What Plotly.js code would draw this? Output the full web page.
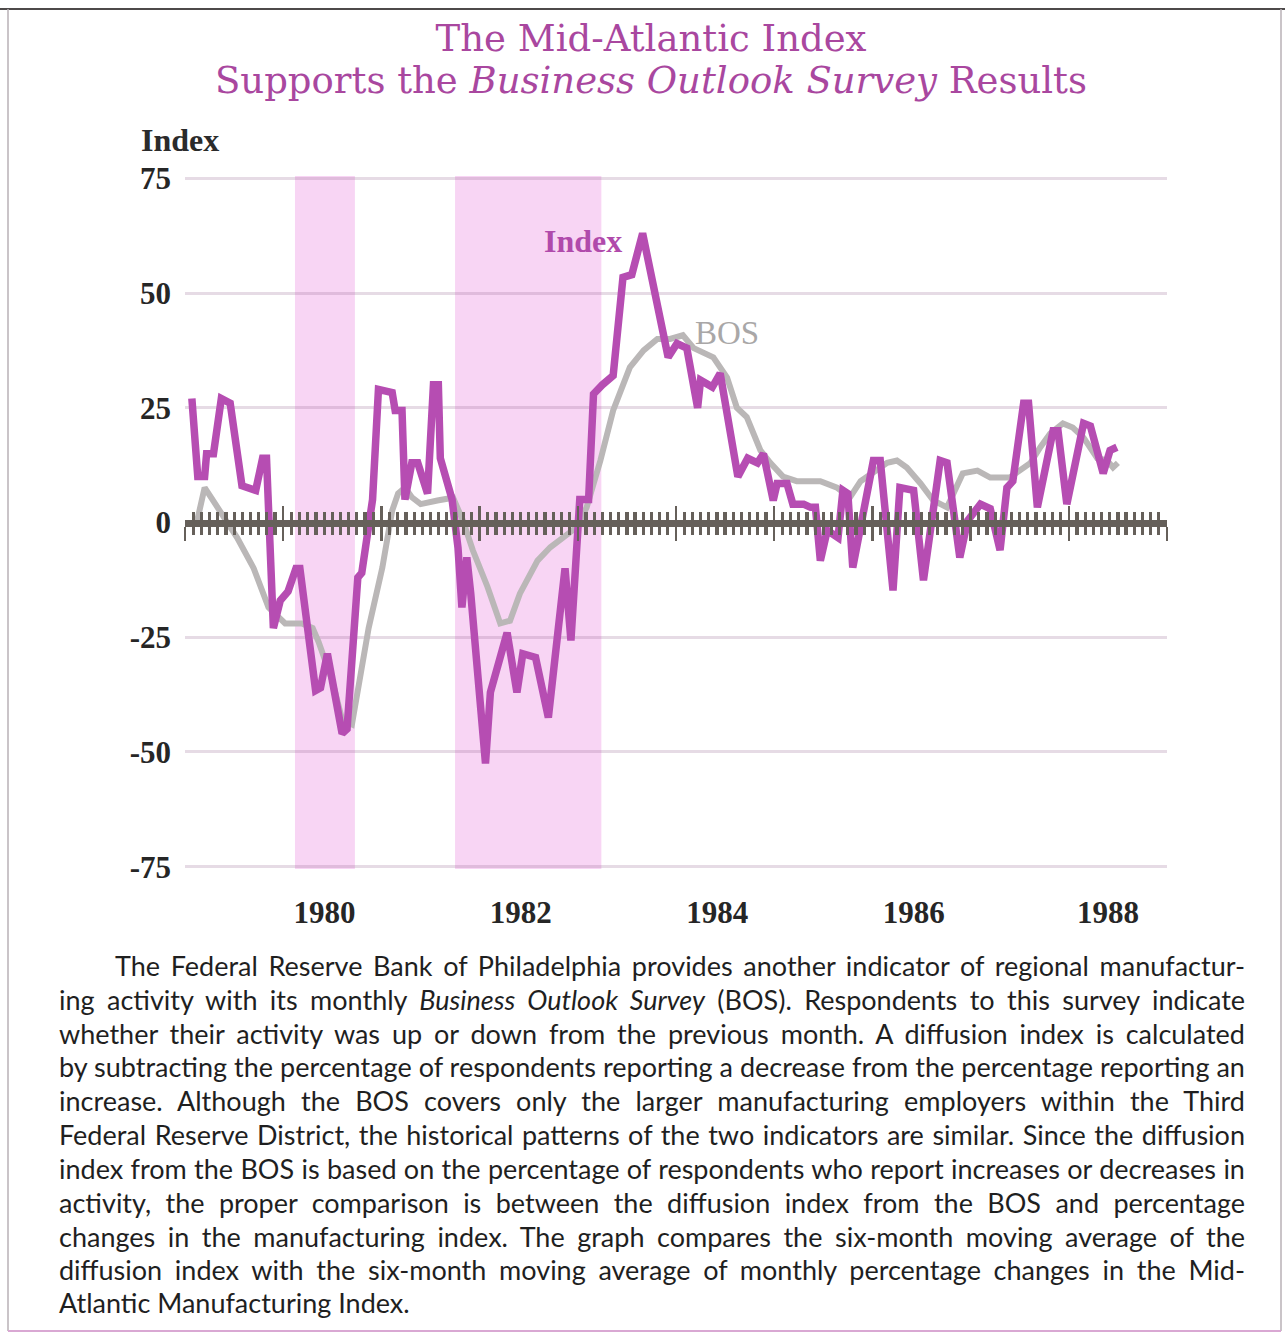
<!DOCTYPE html>
<html><head><meta charset="utf-8">
<script src="https://cdn.plot.ly/plotly-3.0.1.min.js"></script>
<style>html,body{margin:0;padding:0;background:#fff}</style>
</head><body><div id="chart" style="width:1285px;height:1335px"></div>
<script>
// ---- data (decimal years, index values) ----
const indexDates = [1979.07,1979.13,1979.20,1979.22,1979.29,1979.37,1979.46,1979.58,1979.72,1979.79,1979.83,1979.90,1979.97,1980.05,1980.13,1980.17,1980.33,1980.38,1980.45,1980.60,1980.65,1980.76,1980.80,1980.91,1980.97,1981.11,1981.14,1981.21,1981.24,1981.31,1981.37,1981.47,1981.53,1981.58,1981.60,1981.72,1981.78,1981.82,1981.87,1981.91,1982.06,1982.11,1982.28,1982.38,1982.44,1982.57,1982.70,1982.82,1982.87,1982.93,1982.97,1983.02,1983.11,1983.16,1983.25,1983.36,1983.46,1983.55,1983.66,1983.92,1984.01,1984.11,1984.22,1984.25,1984.37,1984.45,1984.63,1984.73,1984.83,1984.89,1984.99,1985.03,1985.13,1985.19,1985.30,1985.37,1985.42,1985.47,1985.54,1985.65,1985.70,1985.75,1985.80,1986.01,1986.08,1986.21,1986.28,1986.42,1986.52,1986.69,1986.76,1986.89,1986.97,1987.10,1987.20,1987.30,1987.37,1987.43,1987.54,1987.59,1987.68,1987.84,1987.89,1987.98,1988.15,1988.22,1988.35,1988.42,1988.49];
const indexValues = [27,10,10,15,15,27,26,8,7,14,14,-23,-17,-15,-10,-10,-36.6,-36,-28.6,-46,-45,-12,-11,5,29,28.3,24.4,24.4,5,13,13,6.3,30,30,14,5,-5.5,-18.5,-7.6,-15.5,-52.5,-37,-24,-37,-28.6,-29.4,-42.5,-20,-10,-25.7,-10,5,5,28,30,32,53.4,54,63,36,39,38,25,31,29.5,32.5,10,14,13,15,4.8,8.5,8.5,4,4,3.3,3.3,-8.3,-1.7,-3.3,7,6.3,-9.8,13.5,13.5,-14.8,7.6,7,-12.6,13.5,13,-7.6,0.4,4,3,-6,7.6,9,26,26,3.3,20,20,4,21.6,21,10.7,15.7,16.4];
const bosDates = [1979.12,1979.20,1979.31,1979.53,1979.70,1979.85,1980.02,1980.19,1980.30,1980.36,1980.50,1980.60,1980.70,1980.76,1980.87,1981.01,1981.11,1981.17,1981.24,1981.31,1981.40,1981.57,1981.67,1981.73,1981.83,1981.93,1982.08,1982.21,1982.31,1982.41,1982.59,1982.72,1982.85,1982.99,1983.09,1983.23,1983.36,1983.53,1983.67,1983.81,1983.94,1984.07,1984.18,1984.32,1984.38,1984.52,1984.62,1984.72,1984.86,1984.96,1985.09,1985.23,1985.34,1985.47,1985.64,1985.77,1985.88,1986.15,1986.25,1986.35,1986.49,1986.62,1986.76,1986.92,1987.07,1987.20,1987.40,1987.51,1987.61,1987.71,1987.81,1987.94,1988.04,1988.15,1988.29,1988.39,1988.45,1988.50];
const bosValues = [0,7.6,4,-3.3,-10,-18.5,-22,-22,-23,-26,-34.5,-43,-44,-37,-23,-9.8,2.6,6.3,7.6,5.5,4,4.8,5,5.4,0.4,-6,-14,-22,-21.4,-15.5,-8.3,-5.4,-3.3,-1,3.3,13.5,24.4,33.8,37.5,40,40,40.8,38,36.8,36,31.6,25,23,15.7,13,10,9,9,9,7.6,5.4,9,13,13.5,12,8.5,4.8,3.3,10.7,11.3,9.8,9.8,11.3,13,16.4,19.4,21.6,20.7,18.5,14,13.5,12,13];
const shadeStart = [1980.12, 1981.75];
const shadeEnd = [1980.73, 1983.24];
const yearTickVals = [1980.42, 1982.42, 1984.42, 1986.42, 1988.40];
const yearTickText = ['1980','1982','1984','1986','1988'];
const yTickVals = [-75,-50,-25,0,25,50,75];
const yTickText = ['-75','-50','-25','0','25','50','75'];
const axisStart = 1979, axisEnd = 1989;
const seriesNames = ['Index','BOS'];

const titleLine1 = 'The Mid-Atlantic Index';
const titleLine2 = 'Supports the <i>Business Outlook Survey</i> Results';
const paragraph = [
 'The Federal Reserve Bank of Philadelphia provides another indicator of regional manufactur-',
 'ing activity with its monthly <i>Business Outlook Survey</i> (BOS). Respondents to this survey indicate',
 'whether their activity was up or down from the previous month. A diffusion index is calculated',
 'by subtracting the percentage of respondents reporting a decrease from the percentage reporting an',
 'increase. Although the BOS covers only the larger manufacturing employers within the Third',
 'Federal Reserve District, the historical patterns of the two indicators are similar. Since the diffusion',
 'index from the BOS is based on the percentage of respondents who report increases or decreases in',
 'activity, the proper comparison is between the diffusion index from the BOS and percentage',
 'changes in the manufacturing index. The graph compares the six-month moving average of the',
 'diffusion index with the six-month moving average of monthly percentage changes in the Mid-',
 'Atlantic Manufacturing Index.'
];

// ---- layout geometry (pixels) ----
const W = 1285, H = 1335;
const ML = 185, PW = 982, MT = 176, PH = 693;
const px = x => (x - ML) / PW;
const py = y => (MT + PH - y) / PH;

const magenta = '#b64db2';
const titleColor = '#a9479f';
const combColor = '#66605a';
const serif = 'Liberation Serif, Times New Roman, serif';
const titleFont = 'DejaVu Serif, serif';

const traces = [
 {x: bosDates, y: bosValues, name: seriesNames[1], mode: 'lines', line: {color: '#bab7b7', width: 6}, hoverinfo: 'skip'},
 {x: indexDates, y: indexValues, name: seriesNames[0], mode: 'lines', line: {color: magenta, width: 7.5}, hoverinfo: 'skip'},
 {x: [axisStart, axisEnd], y: [0, 0], xaxis: 'x2', mode: 'lines', line: {width: 0, color: 'rgba(0,0,0,0)'}, hoverinfo: 'skip', showlegend: false},
 {x: [axisStart, axisEnd], y: [0, 0], xaxis: 'x3', mode: 'lines', line: {width: 0, color: 'rgba(0,0,0,0)'}, hoverinfo: 'skip', showlegend: false}
];

const combAxis = (dir) => ({
 overlaying: 'x', anchor: 'free', position: 0.5, side: 'bottom',
 range: [axisStart, axisEnd], showgrid: false, zeroline: false,
 showline: true, linecolor: combColor, linewidth: 7,
 ticks: dir, tickmode: 'linear', tick0: axisStart, dtick: 1,
 ticklen: 14, tickwidth: 2.5, tickcolor: combColor, showticklabels: false,
 minor: {ticks: dir, dtick: 1/12, tick0: axisStart, ticklen: 8, tickwidth: 3.2, tickcolor: combColor, showgrid: false}
});

const shapes = shadeStart.map((s, i) => ({
 type: 'rect', xref: 'x', yref: 'paper', x0: s, x1: shadeEnd[i], y0: 0, y1: 1,
 fillcolor: '#f8d5f4', line: {width: 0}, layer: 'below'
}));
// page frame
shapes.push({type: 'line', xref: 'paper', yref: 'paper', x0: px(0), x1: px(W), y0: py(9), y1: py(9), line: {color: '#4d4a4a', width: 2}});
shapes.push({type: 'line', xref: 'paper', yref: 'paper', x0: px(8), x1: px(8), y0: py(9), y1: py(1331), line: {color: '#b9b0b6', width: 1.5}});
shapes.push({type: 'line', xref: 'paper', yref: 'paper', x0: px(1281), x1: px(1281), y0: py(9), y1: py(1331), line: {color: '#b9b0b6', width: 1.5}});
shapes.push({type: 'line', xref: 'paper', yref: 'paper', x0: px(8), x1: px(1281), y0: py(1331), y1: py(1331), line: {color: '#d9a8d3', width: 2}});

const paraY = [965, 999, 1033, 1066, 1100, 1134, 1168, 1202, 1236, 1269, 1302];
const paraLeft = i => (i === 0 ? 113 : 57);
const paraRight = 1243;
const annotations = [
 {xref: 'paper', yref: 'paper', x: px(651), y: py(81), xanchor: 'center', yanchor: 'middle', showarrow: false,
  text: titleLine2, font: {family: titleFont, size: 37, color: titleColor}},
 {xref: 'paper', yref: 'paper', x: px(139), y: py(140), xanchor: 'left', yanchor: 'middle', showarrow: false,
  text: 'Index', font: {family: serif, size: 32, color: '#2b2b2b', weight: 'bold'}},
 {xref: 'x', yref: 'y', x: 1983.05, y: 61.3, xanchor: 'center', yanchor: 'middle', showarrow: false,
  text: seriesNames[0], font: {family: serif, size: 32, color: '#b04aab', weight: 'bold'}},
 {xref: 'x', yref: 'y', x: 1984.52, y: 41.4, xanchor: 'center', yanchor: 'middle', showarrow: false,
  text: seriesNames[1], font: {family: serif, size: 33, color: '#a9a7a7'}}
];
const paraStart = annotations.length;
paragraph.forEach((t, i) => annotations.push({
 xref: 'paper', yref: 'paper', x: px(paraLeft(i)), y: py(paraY[i]), xanchor: 'left', yanchor: 'middle',
 align: 'left', showarrow: false, text: t, font: {family: 'Lato, sans-serif', size: 27, color: '#1f1f1f'}
}));

const layout = {
 width: W, height: H, paper_bgcolor: '#fff', plot_bgcolor: 'rgba(0,0,0,0)',
 margin: {l: ML, r: W - ML - PW, t: MT, b: H - MT - PH, pad: 0},
 showlegend: false,
 title: {text: titleLine1, font: {family: titleFont, size: 37, color: titleColor},
  xref: 'container', yref: 'container', x: 651 / W, y: 1 - 38 / H, xanchor: 'center', yanchor: 'middle'},
 xaxis: {range: [axisStart, axisEnd], showgrid: false, zeroline: false, showline: false, ticks: '',
  tickmode: 'array', tickvals: yearTickVals, ticktext: yearTickText, ticklabelstandoff: 22,
  tickfont: {family: serif, size: 31, color: '#262626', weight: 'bold'}},
 xaxis2: combAxis('outside'),
 xaxis3: combAxis('inside'),
 yaxis: {range: [-75.5, 75.5], tickmode: 'array', tickvals: yTickVals, ticktext: yTickText,
  showgrid: true, gridcolor: 'rgba(150,105,145,0.24)', gridwidth: 3, zeroline: false, showline: false, ticks: '',
  ticklabelstandoff: 13, tickfont: {family: serif, size: 31, color: '#262626', weight: 'bold'}},
 shapes: shapes, annotations: annotations
};

Plotly.newPlot('chart', traces, layout, {displayModeBar: false, staticPlot: true}).then(gd => {
 // justify paragraph lines (all but the last) by widening word spacing
 paragraph.forEach((t, i) => {
  if (i === paragraph.length - 1) return;
  const g = gd.querySelector('g.annotation[data-index="' + (paraStart + i) + '"]');
  if (!g) return;
  const txt = g.querySelector('text.annotation-text');
  if (!txt) return;
  const natural = txt.getComputedTextLength();
  const spaces = (txt.textContent.match(/ /g) || []).length;
  const target = paraRight - paraLeft(i);
  if (spaces > 0 && natural < target) {
   txt.style.wordSpacing = ((target - natural) / spaces).toFixed(2) + 'px';
  }
 });
});
</script>
</body></html>
